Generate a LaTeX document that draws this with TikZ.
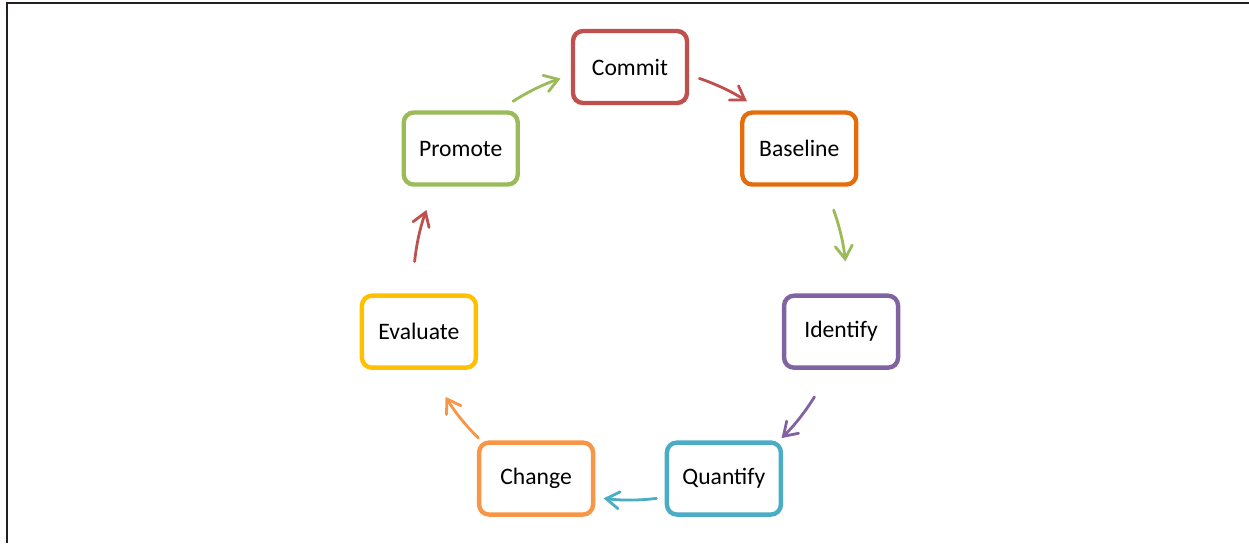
\documentclass[tikz,border=0pt]{standalone}
\usepackage{fontspec}
\setmainfont{Carlito}
\usepackage{tikz}
\usetikzlibrary{arrows.meta,calc}

\definecolor{cRed}{HTML}{C0504D}
\definecolor{cOrange}{HTML}{E46C0A}
\definecolor{cPurple}{HTML}{8064A2}
\definecolor{cTeal}{HTML}{4BACC6}
\definecolor{cLight}{HTML}{F79646}
\definecolor{cYellow}{HTML}{FFC000}
\definecolor{cGreen}{HTML}{9BBB59}
\definecolor{cFrame}{HTML}{231F20}

\begin{document}
\begin{tikzpicture}[x=0.5pt,y=0.5pt,
  stage/.style={draw=#1, line width=2.2pt, rounded corners=5pt, fill=white,
    minimum width=57pt, minimum height=36pt, inner sep=0pt,
    font=\fontsize{11.8}{14}\selectfont},
  flow/.style={draw=#1, line width=1.4pt, line cap=round,
    -{Straight Barb[length=6.5pt,width=8.5pt,line cap=round]}}]
\useasboundingbox (0,0) rectangle (1249,-543);
\def\R{108.25pt}
% frame
\draw [cFrame, line width=1.1pt] (7,-543) -- (7,-3) -- (1249,-3);
% the cycle
\coordinate (hub) at (630,-283.5);
\node [stage=cRed] (commit) at ($(hub)+(90:\R)$) {Commit};
\node [stage=cOrange] (baseline) at ($(hub)+(38.57:\R)$) {Baseline};
\node [stage=cPurple] (identify) at ($(hub)+(-12.86:\R)$) {Identify};
\node [stage=cTeal] (quantify) at ($(hub)+(-64.29:\R)$) {Quantify};
\node [stage=cLight] (change) at ($(hub)+(-115.71:\R)$) {Change};
\node [stage=cYellow] (evaluate) at ($(hub)+(-167.14:\R)$) {Evaluate};
\node [stage=cGreen] (promote) at ($(hub)+(141.43:\R)$) {Promote};
% arrows between the stages
\draw [flow=cRed] ([shift={(71.29:\R)}]hub) arc [start angle=71.29, end angle=57.29, radius=\R];
\draw [flow=cGreen] ([shift={(19.86:\R)}]hub) arc [start angle=19.86, end angle=5.86, radius=\R];
\draw [flow=cPurple] ([shift={(-31.57:\R)}]hub) arc [start angle=-31.57, end angle=-45.57, radius=\R];
\draw [flow=cTeal] ([shift={(-83:\R)}]hub) arc [start angle=-83, end angle=-97, radius=\R];
\draw [flow=cLight] ([shift={(-134.43:\R)}]hub) arc [start angle=-134.43, end angle=-148.43, radius=\R];
\draw [flow=cRed] ([shift={(174.14:\R)}]hub) arc [start angle=174.14, end angle=160.14, radius=\R];
\draw [flow=cGreen] ([shift={(122.71:\R)}]hub) arc [start angle=122.71, end angle=108.71, radius=\R];
\end{tikzpicture}
\end{document}
